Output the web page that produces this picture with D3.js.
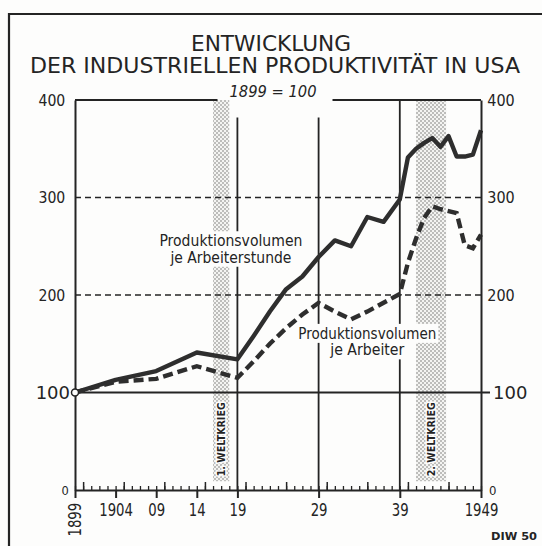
<!DOCTYPE html>
<html>
<head>
<meta charset="utf-8">
<script src="https://cdn.jsdelivr.net/npm/d3@7"></script>
<style>
  body { margin: 0; background: #fdfdfc; }
  svg { display: block; font-family: "DejaVu Sans", sans-serif; }
</style>
</head>
<body>
<svg id="chart"></svg>
<script>
// Index values (1899 = 100)
const years = [1899, 1904, 1909, 1914, 1919, 1921, 1923, 1925, 1927, 1929, 1931, 1933, 1935, 1937, 1939,
               1940, 1941, 1942, 1943, 1944, 1945, 1946, 1947, 1948, 1949];
const perHour = [100, 113, 122, 141, 134, 158, 183, 206, 219, 239, 256, 250, 280, 275, 298,
                 341, 350, 356, 361, 352, 363, 342, 342, 344, 369];
const perWorker = [100, 111, 114, 127, 115, 132, 150, 166, 180, 192, 183, 175, 183, 192, 201,
                   233, 258, 279, 291, 288, 286, 284, 251, 248, 262];

const yTicks = [0, 100, 200, 300, 400];
const labelYears = [1899, 1904, 1909, 1914, 1919, 1929, 1939, 1949];
const labelTexts = ["1899", "1904", "09", "14", "19", "29", "39", "1949"];
const gridYears = [1919, 1929, 1939];
const warStart = [1916, 1941];
const warEnd = [1918, 1944.7];
const warNames = ["1. WELTKRIEG", "2. WELTKRIEG"];
const hourLabel = ["Produktionsvolumen", "je Arbeiterstunde"];
const workerLabel = ["Produktionsvolumen", "je Arbeiter"];

const width = 542, height = 546;
const ink = "#242424";
const paper = "#fdfdfc";

const svg = d3.select("#chart").attr("width", width).attr("height", height);

const x = d3.scaleLinear().domain([1899, 1949]).range([75, 481]);
const y = d3.scaleLinear().domain([0, 400]).range([490, 100]);

// stipple pattern for the war bands
const pat = svg.append("defs").append("pattern")
  .attr("id", "dots").attr("width", 4).attr("height", 4)
  .attr("patternUnits", "userSpaceOnUse");
pat.append("rect").attr("width", 4).attr("height", 4).attr("fill", "#f4f4f2");
pat.append("circle").attr("cx", 1).attr("cy", 1).attr("r", 0.75).attr("fill", "#6a6a6a");
pat.append("circle").attr("cx", 3).attr("cy", 3).attr("r", 0.75).attr("fill", "#6a6a6a");

// outer frame (left + top)
svg.append("path").attr("d", "M9,546V14H542")
  .attr("fill", "none").attr("stroke", ink).attr("stroke-width", 2.2);

// titles
svg.append("text").attr("x", 271).attr("y", 51).attr("text-anchor", "middle")
  .attr("font-size", 21).attr("textLength", 160).attr("lengthAdjust", "spacingAndGlyphs")
  .attr("fill", ink).text("ENTWICKLUNG");
svg.append("text").attr("x", 275).attr("y", 73).attr("text-anchor", "middle")
  .attr("font-size", 21).attr("textLength", 490).attr("lengthAdjust", "spacingAndGlyphs")
  .attr("fill", ink).text("DER INDUSTRIELLEN PRODUKTIVITÄT IN USA");
const sub = svg.append("text").attr("x", 273).attr("y", 97).attr("text-anchor", "middle")
  .attr("font-size", 16).attr("font-style", "italic").attr("textLength", 87)
  .attr("lengthAdjust", "spacingAndGlyphs").attr("fill", ink).text("1899 = 100");
const subBox = sub.node().getBBox();

// war bands
const bands = svg.append("g");
bands.selectAll("rect").data(warNames).join("rect")
  .attr("x", (d, i) => x(warStart[i]))
  .attr("width", (d, i) => x(warEnd[i]) - x(warStart[i]))
  .attr("y", y(400)).attr("height", y(9) - y(400))
  .attr("fill", "url(#dots)");
bands.selectAll("text").data(warNames).join("text")
  .attr("transform", (d, i) => `translate(${(x(warStart[i]) + x(warEnd[i])) / 2 + 4},${y(52)}) rotate(-90)`)
  .attr("text-anchor", "middle").attr("font-size", 10.5).attr("font-weight", "bold")
  .attr("textLength", 74).attr("lengthAdjust", "spacingAndGlyphs")
  .attr("fill", ink).attr("stroke", paper).attr("stroke-width", 3).attr("paint-order", "stroke")
  .text(d => d);

// horizontal grid
svg.append("g").selectAll("line").data([200, 300]).join("line")
  .attr("x1", x(1899)).attr("x2", x(1949)).attr("y1", d => y(d)).attr("y2", d => y(d))
  .attr("stroke", ink).attr("stroke-width", 1.4).attr("stroke-dasharray", "6,4");
svg.append("line").attr("x1", x(1899)).attr("x2", x(1949) + 9)
  .attr("y1", y(100)).attr("y2", y(100)).attr("stroke", ink).attr("stroke-width", 2);

// vertical grid
svg.append("g").selectAll("line").data(gridYears).join("line")
  .attr("x1", d => x(d)).attr("x2", d => x(d))
  .attr("y1", d => d === 1939 ? y(400) : y(382)).attr("y2", y(0))
  .attr("stroke", ink).attr("stroke-width", 1.8);

// top border of plot, broken for the subtitle
svg.append("g").selectAll("line").data([[x(1899), subBox.x - 12], [subBox.x + subBox.width + 16, x(1949)]]).join("line")
  .attr("x1", d => d[0]).attr("x2", d => d[1]).attr("y1", y(400)).attr("y2", y(400))
  .attr("stroke", ink).attr("stroke-width", 2);

// series
const line = d3.line().x((d, i) => x(years[i])).y(d => y(d));
svg.append("path").attr("d", line(perHour)).attr("fill", "none")
  .attr("stroke", "#2e2e2e").attr("stroke-width", 4.4).attr("stroke-linejoin", "round");
svg.append("path").attr("d", line(perWorker)).attr("fill", "none")
  .attr("stroke", "#2e2e2e").attr("stroke-width", 4.4).attr("stroke-dasharray", "10,5");

// series labels with paper background
function seriesLabel(lines, cx, cy, widths) {
  const g = svg.append("g");
  lines.forEach((t, i) => {
    const txt = g.append("text").attr("x", cx).attr("y", cy + i * 16.5)
      .attr("text-anchor", "middle").attr("font-size", 15)
      .attr("textLength", widths[i]).attr("lengthAdjust", "spacingAndGlyphs")
      .attr("fill", ink).text(t);
    const b = txt.node().getBBox();
    g.insert("rect", "text").attr("x", b.x - 2).attr("y", b.y - 1)
      .attr("width", b.width + 4).attr("height", b.height + 1).attr("fill", paper);
  });
}
seriesLabel(hourLabel, x(1918.2), y(250), [143, 121]);
seriesLabel(workerLabel, x(1935), y(155), [138, 74]);

// left axis
const left = svg.append("g").attr("transform", `translate(${x(1899)},0)`)
  .call(d3.axisLeft(y).tickValues(yTicks).tickSize(0).tickSizeOuter(0));
left.select(".domain").attr("stroke", ink).attr("stroke-width", 2);
left.selectAll(".tick text")
  .attr("fill", ink).attr("font-family", "DejaVu Sans")
  .attr("font-size", d => d === 100 ? 18 : d === 0 ? 13 : 16)
  .attr("x", d => d === 100 ? -5 : d === 0 ? -7 : -11)
  .attr("transform", d => d === 100 ? null : "scale(0.88,1)");

// right axis
const right = svg.append("g").attr("transform", `translate(${x(1949)},0)`)
  .call(d3.axisRight(y).tickValues(yTicks).tickSize(0).tickSizeOuter(0));
right.select(".domain").attr("stroke", ink).attr("stroke-width", 2);
right.selectAll(".tick text")
  .attr("fill", ink).attr("font-family", "DejaVu Sans")
  .attr("font-size", d => d === 100 ? 18 : d === 0 ? 13 : 16)
  .attr("x", d => d === 100 ? 12 : d === 0 ? 9 : 7)
  .attr("transform", d => d === 100 ? null : "scale(0.9,1)");

// bottom axis: yearly ticks, taller every 5 years, labelled ticks downward
const bottom = svg.append("g").attr("transform", `translate(0,${y(0)})`);
bottom.append("g")
  .call(d3.axisTop(x).tickValues(d3.range(1899, 1950)).tickSize(4).tickSizeOuter(0).tickFormat(""))
  .call(g => g.select(".domain").attr("stroke", ink).attr("stroke-width", 2))
  .call(g => g.selectAll(".tick line").attr("stroke", ink).attr("stroke-width", 1.3));
bottom.append("g")
  .call(d3.axisTop(x).tickValues(d3.range(1900, 1950, 5)).tickSize(8).tickFormat(""))
  .call(g => g.select(".domain").remove())
  .call(g => g.selectAll(".tick line").attr("stroke", ink).attr("stroke-width", 1.5));
const lab = bottom.append("g")
  .call(d3.axisBottom(x).tickValues(labelYears).tickSize(8).tickPadding(6)
    .tickFormat((d, i) => labelTexts[i]))
  .call(g => g.select(".domain").remove())
  .call(g => g.selectAll(".tick line").attr("stroke", ink).attr("stroke-width", 2));
lab.selectAll(".tick text")
  .attr("fill", ink).attr("font-family", "DejaVu Sans").attr("font-size", 17)
  .attr("transform", "scale(0.78,1)");
lab.selectAll(".tick text").filter(d => d === 1899)
  .attr("transform", "rotate(-90) scale(0.78,1)")
  .attr("x", -38).attr("y", 0).attr("dy", "0.35em").attr("text-anchor", "middle");

// base point marker
svg.append("circle").attr("cx", x(1899)).attr("cy", y(100)).attr("r", 3.5)
  .attr("fill", paper).attr("stroke", ink).attr("stroke-width", 1.5);

// source note
svg.append("text").attr("x", 537).attr("y", 540).attr("text-anchor", "end")
  .attr("font-size", 11).attr("font-weight", "bold")
  .attr("textLength", 46).attr("lengthAdjust", "spacingAndGlyphs")
  .attr("fill", ink).text("DIW 50");
</script>
</body>
</html>
